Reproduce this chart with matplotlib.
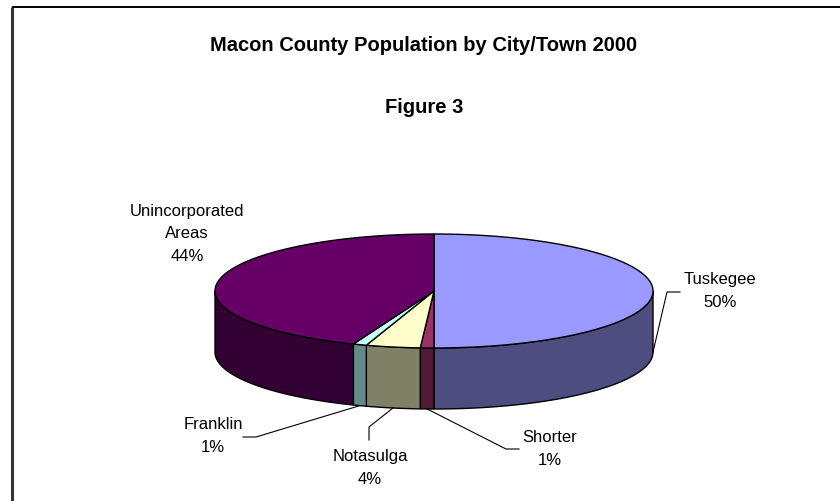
import numpy as np
import matplotlib.pyplot as plt
from matplotlib.patches import Polygon

# share of county population, in percent, clockwise from 12 o'clock
towns = ["Tuskegee", "Shorter", "Notasulga", "Franklin", "Unincorporated\nAreas"]
shares = [50, 1, 4, 1, 44]

top_colors = ["#9999FF", "#993366", "#FFFFCC", "#CCFFFF", "#660066"]
side_colors = ["#4D4D80", "#4F1A36", "#808066", "#668A8A", "#330033"]

# label centres and leader elbows (pixel space)
label_pos = [(720, 291), (550, 449), (370, 468), (213, 436), (187, 234)]
leader_pts = [[(667, 292), (680, 292)],
              [(506, 449), (519, 449)],
              [(369, 427), (369, 440)],
              [(256, 437), (243, 437)],
              None]

cx, cy, rx, ry, depth = 434, 291, 219, 57, 61

plt.rcParams['font.family'] = ['Liberation Sans', 'DejaVu Sans']

fig = plt.figure(figsize=(8.4, 5.01), dpi=100)
ax = fig.add_axes([0, 0, 1, 1])
ax.set_xlim(0, 840)
ax.set_ylim(501, 0)
ax.axis('off')


def rim(t):
    r = np.radians(t)
    return cx + rx * np.sin(r), cy - ry * np.cos(r)


def arc(t1, t2, dy=0):
    ts = np.linspace(t1, t2, max(int(abs(t2 - t1)) * 2, 2))
    xs, ys = rim(ts)
    return np.column_stack([xs, ys + dy])


angles = np.concatenate([[0], np.cumsum(shares)]) * 360.0 / sum(shares)

# side walls, only the front half can be seen
for i in range(len(shares)):
    a1, a2 = max(angles[i], 90), min(angles[i + 1], 270)
    if a2 <= a1:
        continue
    pts = np.vstack([arc(a1, a2), arc(a2, a1, depth)])
    ax.add_patch(Polygon(pts, closed=True, fc=side_colors[i], ec='black', lw=1.0))

# top faces
for i in range(len(shares)):
    pts = np.vstack([[cx, cy], arc(angles[i], angles[i + 1])])
    ax.add_patch(Polygon(pts, closed=True, fc=top_colors[i], ec='black', lw=1.0))

# data labels with leader lines
for i, name in enumerate(towns):
    lx, ly = label_pos[i]
    ax.text(lx, ly, "%s\n%d%%" % (name, shares[i]), ha='center', va='center',
            multialignment='center', fontsize=12, linespacing=1.65, color='black')
    if leader_pts[i] is None:
        continue
    mid = (angles[i] + angles[i + 1]) / 2
    mx, my = rim(mid)
    if 90 <= mid <= 270:
        my += depth
    xs = [mx] + [p[0] for p in leader_pts[i]]
    ys = [my] + [p[1] for p in leader_pts[i]]
    ax.plot(xs, ys, color='black', lw=0.8)

ax.text(424, 45, "Macon County Population by City/Town 2000", ha='center', va='center',
        fontsize=14.5, fontweight='bold')
ax.text(424, 107, "Figure 3", ha='center', va='center', fontsize=14.5, fontweight='bold')

# chart frame
ax.plot([12, 12], [501, 7], color='#333333', lw=2.2, solid_capstyle='butt')
ax.plot([12, 840], [7, 7], color='black', lw=1.4, solid_capstyle='butt')

fig.savefig("out.png", dpi=100, facecolor='white')
